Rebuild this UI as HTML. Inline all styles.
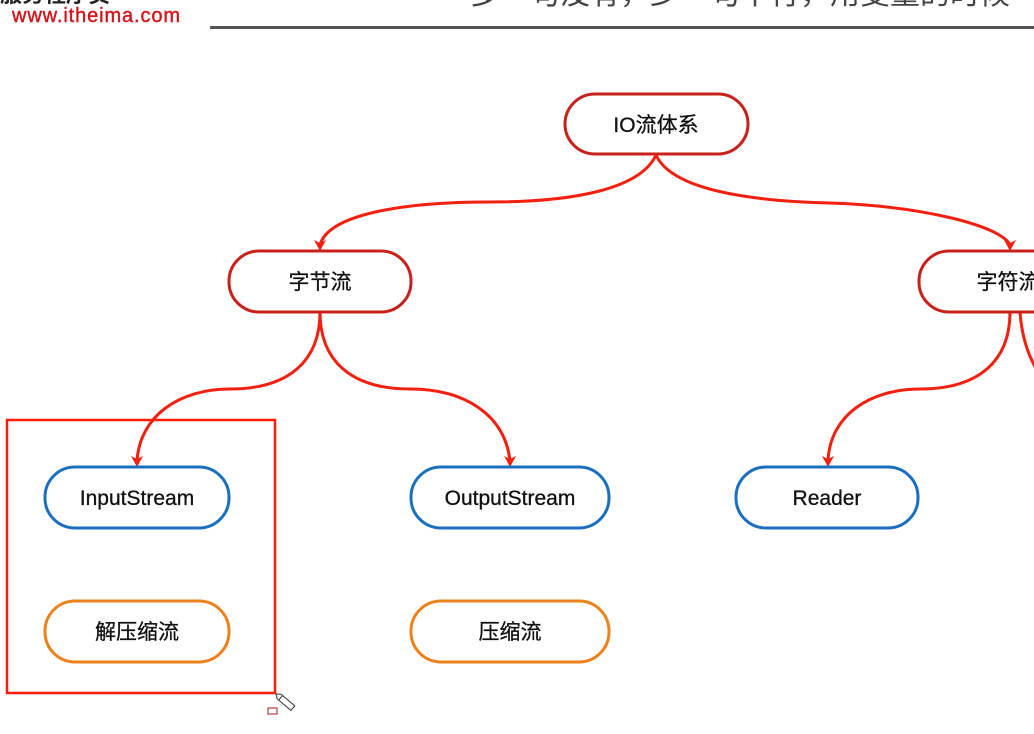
<!DOCTYPE html>
<html><head><meta charset="utf-8">
<style>
html,body{margin:0;padding:0;background:#fff;width:1034px;height:734px;overflow:hidden}
svg{display:block}
text{font-family:"Liberation Sans","Noto Sans CJK SC",sans-serif}
</style></head><body>
<svg width="1034" height="734" viewBox="0 0 1034 734" xmlns="http://www.w3.org/2000/svg">
<!-- header -->
<text x="0" y="2" font-size="22" font-weight="bold" fill="#222">服务程序员</text>
<text x="12" y="22" font-size="20" fill="#d3141b" font-family="Liberation Sans Narrow, Liberation Sans, sans-serif" textLength="168" stroke="#d3141b" stroke-width="0.4">www.itheima.com</text>
<text x="470" y="4" font-size="30" fill="#444" font-family="Noto Serif CJK SC, serif">多一句没有，少一句不行，用变量的时候</text>
<rect x="210" y="26" width="824" height="3" fill="#555"/>

<g fill="none" stroke="#f2200f" stroke-width="3">
<path d="M656,155 C640,190 570,202 490,202 C400,202 328,215 320,245"/>
<path d="M656,155 C672,190 750,201 830,203 C920,206 1000,225 1010,245"/>
<path d="M320,312 C320,360 290,389 230,389 C180,389 140,415 137,461"/>
<path d="M320,312 C320,360 350,389 410,389 C465,389 505,415 510,461"/>
<path d="M1010,312 C1010,360 980,389 920,389 C870,389 830,415 828,461"/>
<path d="M1020,312 C1022,340 1030,360 1040,375"/>
</g>
<g fill="#f2200f">
<path d="M320,251 L314,240 L320,243 L326,240 Z"/>
<path d="M1010,251 L1004,240 L1010,243 L1016,240 Z"/>
<path d="M137,467 L131,456 L137,459 L143,456 Z"/>
<path d="M510,467 L504,456 L510,459 L516,456 Z"/>
<path d="M828,467 L822,456 L828,459 L834,456 Z"/>
</g>

<g fill="#fff" stroke-width="3">
<rect x="565" y="94" width="183" height="60" rx="30" stroke="#c8201a"/>
<rect x="229" y="251" width="182" height="61" rx="30" stroke="#c8201a"/>
<rect x="919" y="251" width="160" height="61" rx="30" stroke="#c8201a"/>
<rect x="45" y="467" width="184" height="61" rx="30" stroke="#1b6fbf"/>
<rect x="411" y="467" width="198" height="61" rx="30" stroke="#1b6fbf"/>
<rect x="736" y="467" width="182" height="61" rx="30" stroke="#1b6fbf"/>
<rect x="45" y="601" width="184" height="61" rx="30" stroke="#ec821e"/>
<rect x="411" y="601" width="198" height="61" rx="30" stroke="#ec821e"/>
</g>
<rect x="7" y="420" width="268" height="273" fill="none" stroke="#ff1a0a" stroke-width="2.5"/>

<g font-size="21" fill="#111" text-anchor="middle" stroke="#111" stroke-width="0.3">
<text x="656" y="132">IO流体系</text>
<text x="320" y="289">字节流</text>
<text x="1008" y="289">字符流</text>
<text x="137" y="505">InputStream</text>
<text x="510" y="505">OutputStream</text>
<text x="827" y="505">Reader</text>
<text x="137" y="639">解压缩流</text>
<text x="510" y="639">压缩流</text>
</g>

<!-- pencil cursor -->
<g transform="translate(276,694) rotate(40)" fill="#fff" stroke="#333" stroke-width="1">
<path d="M0,0 L4,-3 L22,-3 L22,3 L4,3 Z"/>
<line x1="6" y1="-3" x2="6" y2="3"/>
</g>
<rect x="268" y="708" width="9" height="6" fill="#fff" stroke="#b04040" stroke-width="1.2"/>
</svg>
</body></html>
